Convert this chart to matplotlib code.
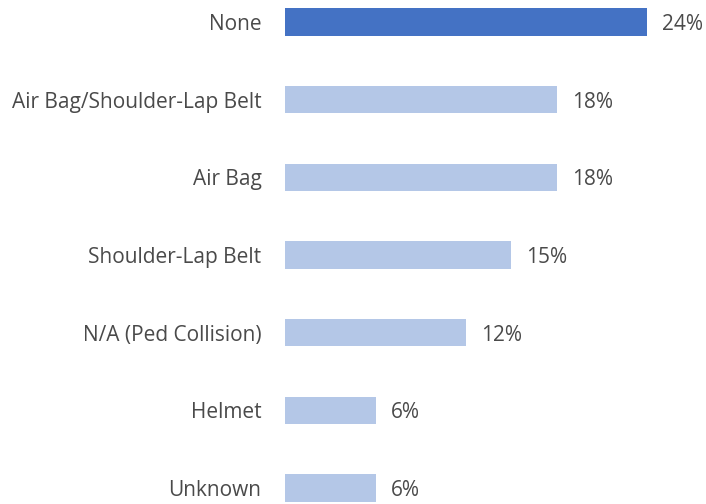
import matplotlib
matplotlib.use("Agg")
import matplotlib.pyplot as plt

# === Datos ===
categories = ["None", "Air Bag/Shoulder-Lap Belt", "Air Bag", "Shoulder-Lap Belt",
              "N/A (Ped Collision)", "Helmet", "Unknown"]
values = [24, 18, 18, 15, 12, 6, 6]
labels = ["24%", "18%", "18%", "15%", "12%", "6%", "6%"]
colors = ["#4472C4"] + ["#B4C7E7"] * 6

plt.rcParams['font.family'] = ['Open Sans', 'DejaVu Sans']
text_color = "#4a4a4a"

fig = plt.figure(figsize=(7.06, 5.04), dpi=100)
ax = fig.add_axes([285 / 706, 0, 1 - 285 / 706, 1])

pos = list(range(len(categories)))
ax.barh(pos, values, height=0.35, color=colors)

for p, v, lab in zip(pos, values, labels):
    ax.text(v + 1.0, p, lab, va="center_baseline", ha="left", fontsize=15, color=text_color)

ax.set_yticks(pos)
ax.set_yticklabels(categories, fontsize=15, color=text_color, va="center_baseline")
ax.tick_params(axis="y", length=0, pad=17)
ax.set_xticks([])
ax.set_xlim(0, 27.9)
ax.set_ylim(6.206, -0.283)
for s in ax.spines.values():
    s.set_visible(False)

fig.savefig("out.png", dpi=100)
